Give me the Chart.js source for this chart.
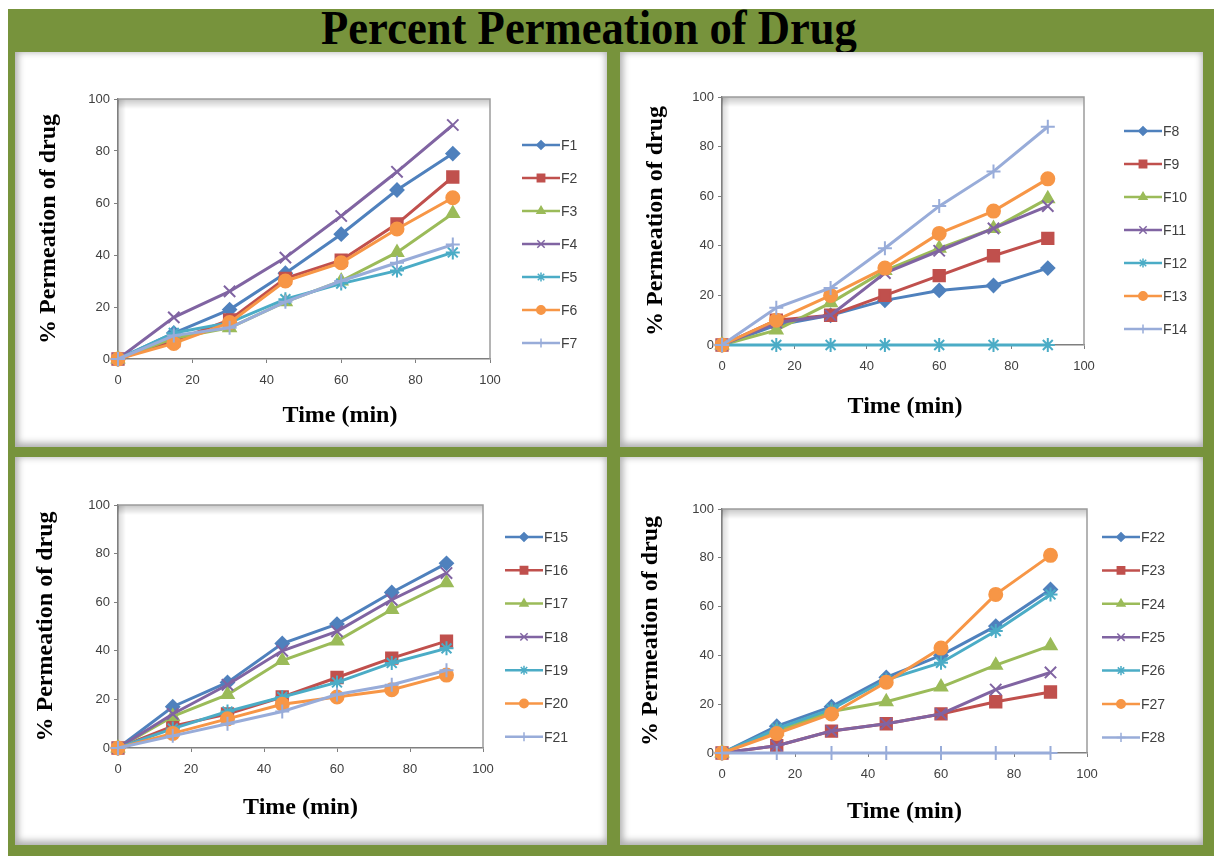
<!DOCTYPE html>
<html>
<head>
<meta charset="utf-8">
<title>Percent Permeation of Drug</title>
<script src="https://cdn.jsdelivr.net/npm/chart.js@4.4.0/dist/chart.umd.min.js"></script>
<style>
  html, body { margin: 0; padding: 0; background: #fff; }
  body { width: 1214px; height: 856px; position: relative; overflow: hidden; }
  #frame { position: absolute; left: 8px; top: 9px; right: 0; bottom: 0; background: #77933c; }
  #title {
    position: absolute; left: 0; top: 4px; width: 1178px; text-align: center;
    font: bold 48px "Liberation Serif", "Times New Roman", serif; line-height: 48px;
    color: #000; transform: scaleX(0.93); transform-origin: 589px 0;
  }
  .panel { position: absolute; background: #fff; box-shadow: inset 1px -2px 7px 2px rgba(0,0,0,0.32); }
  .panel canvas { position: absolute; left: 0; top: 0; }
</style>
</head>
<body>
<div id="frame"></div>
<div id="title">Percent Permeation of Drug</div>

<div class="panel" style="left:15px;top:52px;width:592px;height:395px;"><canvas id="chart1" width="592" height="395"></canvas></div>
<div class="panel" style="left:620px;top:52px;width:583px;height:395px;"><canvas id="chart2" width="583" height="395"></canvas></div>
<div class="panel" style="left:15px;top:457px;width:592px;height:388px;"><canvas id="chart3" width="592" height="388"></canvas></div>
<div class="panel" style="left:620px;top:457px;width:583px;height:388px;"><canvas id="chart4" width="583" height="388"></canvas></div>

<script>
// Sampling times and axis ticks
const timeMin = [0, 15, 30, 45, 60, 75, 90];
const xTickValues = [0, 20, 40, 60, 80, 100];
const yTickValues = [0, 20, 40, 60, 80, 100];
const xAxisTitle = 'Time (min)';
const yAxisTitle = '% Permeation of drug';

// Panel 1: F1 - F7
const f1 = [0, 10, 19, 33, 48, 65, 79];
const f2 = [0, 7, 15, 31, 38, 52, 70];
const f3 = [0, 8, 12, 22, 30, 41, 56];
const f4 = [0, 16, 26, 39, 55, 72, 90];
const f5 = [0, 10, 14, 23, 29, 34, 41];
const f6 = [0, 6, 14, 30, 37, 50, 62];
const f7 = [0, 9, 12, 22, 30, 37, 44];

// Panel 2: F8 - F14
const f8 = [0, 8, 12, 18, 22, 24, 31];
const f9 = [0, 10, 12, 20, 28, 36, 43];
const f10 = [0, 6, 17, 30, 39, 47, 59];
const f11 = [0, 9, 12, 29, 38, 47, 56];
const f12 = [0, 0, 0, 0, 0, 0, 0];
const f13 = [0, 10, 20, 31, 45, 54, 67];
const f14 = [0, 15, 23, 39, 56, 70, 88];

// Panel 3: F15 - F21
const f15 = [0, 17, 27, 43, 51, 64, 76];
const f16 = [0, 9, 14, 21, 29, 37, 44];
const f17 = [0, 13, 22, 36, 44, 57, 68];
const f18 = [0, 14, 26, 40, 48, 61, 72];
const f19 = [0, 8, 15, 21, 27, 35, 41];
const f20 = [0, 6, 12, 18, 21, 24, 30];
const f21 = [0, 5, 10, 15, 22, 26, 32];

// Panel 4: F22 - F28
const f22 = [0, 11, 19, 31, 40, 52, 67];
const f23 = [0, 3, 9, 12, 16, 21, 25];
const f24 = [0, 9, 17, 21, 27, 36, 44];
const f25 = [0, 3, 9, 12, 16, 26, 33];
const f26 = [0, 10, 18, 30, 37, 50, 65];
const f27 = [0, 8, 16, 29, 43, 65, 81];
const f28 = [0, 0, 0, 0, 0, 0, 0];

const names1 = ['F1', 'F2', 'F3', 'F4', 'F5', 'F6', 'F7'];
const names2 = ['F8', 'F9', 'F10', 'F11', 'F12', 'F13', 'F14'];
const names3 = ['F15', 'F16', 'F17', 'F18', 'F19', 'F20', 'F21'];
const names4 = ['F22', 'F23', 'F24', 'F25', 'F26', 'F27', 'F28'];

// Excel-like series styling (same order in every panel)
const seriesColors = ['#4f81bd', '#c0504d', '#9bbb59', '#8064a2', '#4bacc6', '#f79646', '#98acd9'];
const seriesMarkers = ['rectRot', 'rect', 'triangle', 'crossRot', 'star', 'circle', 'cross'];
const markerRadius = [6.5, 8, 7, 8, 7, 6.5, 7];

// Layout of each panel (canvas coordinates)
const panels = [
  { id: 'chart1', names: names1, values: [f1, f2, f3, f4, f5, f6, f7],
    padLeft: 15, area: { left: 103, top: 47, right: 475, bottom: 307 },
    legend: { x: 507, y: 93, step: 33 }, xTitle: { dx: 36, dy: 57 } },
  { id: 'chart2', names: names2, values: [f8, f9, f10, f11, f12, f13, f14],
    padLeft: 17, area: { left: 102, top: 45, right: 464, bottom: 293 },
    legend: { x: 504, y: 79, step: 33 }, xTitle: { dx: 2, dy: 62 } },
  { id: 'chart3', names: names3, values: [f15, f16, f17, f18, f19, f20, f21],
    padLeft: 12, area: { left: 103, top: 48, right: 468, bottom: 291 },
    legend: { x: 490, y: 80, step: 33.3 }, xTitle: { dx: 0, dy: 60 } },
  { id: 'chart4', names: names4, values: [f22, f23, f24, f25, f26, f27, f28],
    padLeft: 12, area: { left: 102, top: 52, right: 467, bottom: 296 },
    legend: { x: 482, y: 80, step: 33.4 }, xTitle: { dx: 0, dy: 59 } }
];

// Plot-area frame, legend and x-axis title
const panelDecor = {
  id: 'panelDecor',
  beforeDatasetsDraw(chart) {
    const { ctx, chartArea: a } = chart;
    const w = a.right - a.left, h = a.bottom - a.top;
    ctx.save();
    let g = ctx.createLinearGradient(0, a.top, 0, a.top + 10);
    g.addColorStop(0, 'rgba(0,0,0,0.22)');
    g.addColorStop(1, 'rgba(0,0,0,0)');
    ctx.fillStyle = g;
    ctx.fillRect(a.left, a.top, w, 10);
    g = ctx.createLinearGradient(a.left, 0, a.left + 8, 0);
    g.addColorStop(0, 'rgba(0,0,0,0.15)');
    g.addColorStop(1, 'rgba(0,0,0,0)');
    ctx.fillStyle = g;
    ctx.fillRect(a.left, a.top, 8, h);
    ctx.strokeStyle = '#9c9c9c';
    ctx.lineWidth = 1.5;
    ctx.beginPath();
    ctx.moveTo(a.left, a.top);
    ctx.lineTo(a.right, a.top);
    ctx.lineTo(a.right, a.bottom);
    ctx.stroke();
    ctx.restore();
  },
  afterDraw(chart, args, opts) {
    const { ctx, chartArea: a } = chart;
    ctx.save();
    chart.data.datasets.forEach((ds, i) => {
      const y = opts.legend.y + i * opts.legend.step;
      const x0 = opts.legend.x, len = 38;
      ctx.strokeStyle = ds.borderColor;
      ctx.lineWidth = 2.5;
      ctx.beginPath();
      ctx.moveTo(x0, y);
      ctx.lineTo(x0 + len, y);
      ctx.stroke();
      ctx.fillStyle = ds.pointBackgroundColor;
      ctx.strokeStyle = ds.pointBorderColor;
      ctx.lineWidth = 1.5;
      Chart.helpers.drawPoint(ctx, { pointStyle: ds.pointStyle, radius: ds.pointRadius * 0.65, rotation: 0, borderWidth: 1.5 }, x0 + len / 2, y);
      ctx.fillStyle = '#404040';
      ctx.font = '14px "Liberation Sans Narrow", "Liberation Sans", sans-serif';
      ctx.textBaseline = 'middle';
      ctx.textAlign = 'left';
      ctx.fillText(ds.label, x0 + len + 1, y + 1);
    });
    ctx.fillStyle = '#000';
    ctx.font = 'bold 24px "Liberation Serif", serif';
    ctx.textAlign = 'center';
    ctx.textBaseline = 'middle';
    ctx.fillText(xAxisTitle, (a.left + a.right) / 2 + opts.xTitle.dx, a.bottom + opts.xTitle.dy);
    ctx.restore();
  }
};

const tickFont = { family: '"Liberation Sans Narrow", "Liberation Sans", sans-serif', size: 13 };

const makeChart = (p) => {
  const canvas = document.getElementById(p.id);
  const datasets = p.values.map((vals, i) => ({
    label: p.names[i],
    data: vals.map((v, k) => ({ x: timeMin[k], y: v })),
    borderColor: seriesColors[i],
    backgroundColor: seriesColors[i],
    pointBackgroundColor: seriesColors[i],
    pointBorderColor: seriesColors[i],
    pointStyle: seriesMarkers[i],
    pointRadius: markerRadius[i],
    pointBorderWidth: 2,
    borderWidth: 3,
    tension: 0,
    clip: false,
    order: p.values.length - i
  }));

  return new Chart(canvas.getContext('2d'), {
    type: 'line',
    data: { datasets },
    options: {
      responsive: false,
      animation: false,
      layout: {
        padding: { left: p.padLeft, top: p.area.top, right: canvas.width - p.area.right, bottom: 0 }
      },
      plugins: {
        legend: { display: false },
        tooltip: { enabled: false },
        panelDecor: { legend: p.legend, xTitle: p.xTitle }
      },
      scales: {
        x: {
          type: 'linear', min: 0, max: 100,
          afterBuildTicks: (s) => { s.ticks = xTickValues.map(v => ({ value: v })); },
          afterFit: (s) => { s.height = canvas.height - p.area.bottom; },
          grid: { drawOnChartArea: false, drawTicks: true, tickLength: 4, color: '#7f7f7f' },
          border: { color: '#7f7f7f', width: 1.5 },
          ticks: { font: tickFont, color: '#404040', padding: 10, maxRotation: 0 }
        },
        y: {
          type: 'linear', min: 0, max: 100,
          afterBuildTicks: (s) => { s.ticks = yTickValues.map(v => ({ value: v })); },
          afterFit: (s) => { s.width = p.area.left - p.padLeft; },
          grid: { drawOnChartArea: false, drawTicks: true, tickLength: 4, color: '#7f7f7f' },
          border: { color: '#7f7f7f', width: 1.5 },
          ticks: { font: tickFont, color: '#404040', padding: 4 },
          title: {
            display: true, text: yAxisTitle, color: '#000',
            font: { family: '"Liberation Serif", serif', size: 24, weight: 'bold' }
          }
        }
      }
    },
    plugins: [panelDecor]
  });
};

document.addEventListener('DOMContentLoaded', () => {
  panels.forEach(makeChart);
});
</script>
</body>
</html>
